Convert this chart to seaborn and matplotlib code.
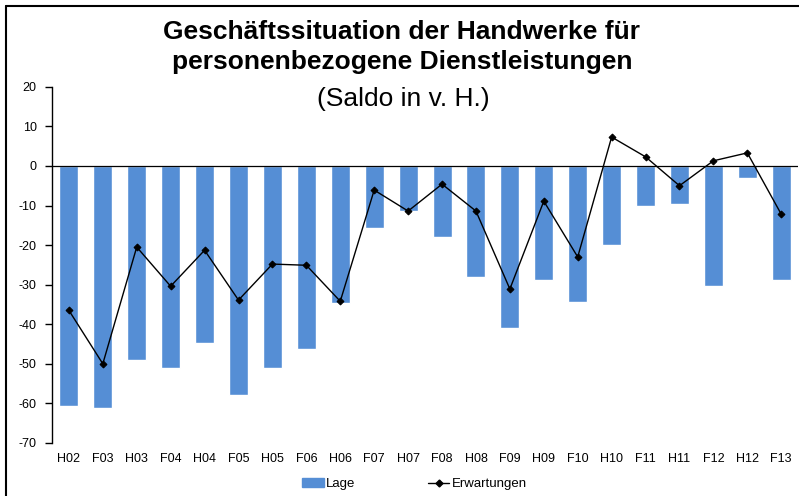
import matplotlib
matplotlib.use("Agg")
import matplotlib.pyplot as plt
import matplotlib.lines as mlines
import matplotlib.patches as mpatches
import seaborn as sns

# ------------------------------
# Data (Saldo in v. H.)
# ------------------------------
periods = ["H02", "F03", "H03", "F04", "H04", "F05", "H05", "F06", "H06", "F07", "H07",
           "F08", "H08", "F09", "H09", "F10", "H10", "F11", "H11", "F12", "H12", "F13"]
lage = [-60.6, -61.2, -49.1, -51.1, -44.8, -58.0, -51.1, -46.3, -34.7, -15.7, -11.4,
        -18.0, -28.1, -41.0, -28.9, -34.4, -20.0, -10.1, -9.6, -30.4, -3.0, -28.9]
erwartungen = [-36.5, -50.0, -20.5, -30.4, -21.3, -33.9, -24.8, -25.1, -34.2, -6.1, -11.4,
               -4.6, -11.4, -31.1, -8.9, -23.0, 7.3, 2.3, -5.0, 1.3, 3.3, -12.2]

bar_color = "#558ED5"

sns.set_style("white")
plt.rcParams["font.family"] = ["Liberation Sans", "DejaVu Sans"]
plt.rcParams["axes.unicode_minus"] = False
plt.rcParams["text.color"] = "black"
plt.rcParams["xtick.color"] = "black"
plt.rcParams["ytick.color"] = "black"
plt.rcParams["axes.labelcolor"] = "black"

fig = plt.figure(figsize=(7.99, 4.96), dpi=100)
ax = fig.add_axes([0.065, 0.107, 0.934, 0.718])

sns.barplot(x=periods, y=lage, color=bar_color, width=0.56, saturation=1, ax=ax)
sns.pointplot(x=periods, y=erwartungen, color="black", markers="D", markersize=3.5,
              linewidth=1, ax=ax)

ax.set_ylim(-70, 20)
ax.set_yticks(range(-70, 21, 10))
ax.set_xlim(-0.5, len(periods) - 0.5)
ax.axhline(0, color="black", lw=0.9, zorder=5)

for side in ["top", "right", "bottom"]:
    ax.spines[side].set_visible(False)
ax.spines["left"].set_color("black")
ax.spines["left"].set_linewidth(1)
ax.tick_params(axis="y", direction="out", length=5, width=1, color="black",
               labelcolor="black", labelsize=9, pad=6, left=True)
ax.tick_params(axis="x", length=0, labelcolor="black", labelsize=9, pad=7)
ax.set_xlabel("")
ax.set_ylabel("")

# Title
fig.text(0.503, 0.9355, "Geschäftssituation der Handwerke für", color="black",
         ha="center", va="center", fontsize=19, fontweight="bold")
fig.text(0.503, 0.874, "personenbezogene Dienstleistungen", color="black",
         ha="center", va="center", fontsize=19, fontweight="bold")
fig.text(0.505, 0.801, "(Saldo in v. H.)", color="black",
         ha="center", va="center", fontsize=19)

# Legend
handles = [mpatches.Patch(color=bar_color, label="Lage"),
           mlines.Line2D([], [], color="black", marker="D", markersize=3.5, lw=1,
                         label="Erwartungen")]
fig.legend(handles=handles, loc="center", bbox_to_anchor=(0.519, 0.024), ncol=2,
           frameon=False, fontsize=9.5, columnspacing=5.5, handlelength=1.6,
           handletextpad=0.2, handleheight=0.6, labelcolor="black")

# Frame around chart
fig.add_artist(mlines.Line2D([0.008, 0.008], [0, 0.988], color="black", lw=1.5))
fig.add_artist(mlines.Line2D([0.008, 1.0], [0.988, 0.988], color="black", lw=1.5))

plt.savefig("out.png", dpi=100)
